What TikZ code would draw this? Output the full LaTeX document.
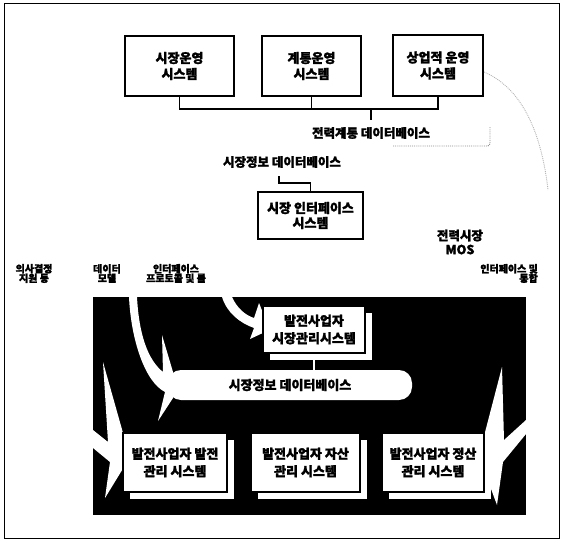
\documentclass[tikz,border=0pt]{standalone}
\usepackage{fontspec}
\newfontfamily\kr{Noto Sans CJK KR}[BoldFeatures={FakeBold=1.6}]
\usetikzlibrary{shadows}
\begin{document}
\begin{tikzpicture}[x=1pt,y=-1pt,
  tbox/.style={draw=black, line width=1.1pt, fill=white, inner sep=0pt, align=center,
    font=\kr\bfseries\fontsize{13}{16}\selectfont},
  wbox/.style={draw=black, line width=2.5pt, fill=white, inner sep=0pt, align=center,
    font=\kr\bfseries\fontsize{13}{17.5}\selectfont,
    drop shadow={shadow xshift=7pt, shadow yshift=-7pt, fill=white, opacity=1}},
  lbl/.style={inner sep=0pt, align=center, font=\kr\bfseries\fontsize{10}{9.5}\selectfont},
  dblbl/.style={inner sep=0pt, align=center, font=\kr\bfseries\fontsize{12.5}{14}\selectfont},
  conn/.style={draw=black, line width=1.1pt},
  wconn/.style={draw=white, line width=1.2pt},
  swoosh/.style={fill=white, draw=none},
  speck/.style={draw=black!45, densely dotted, line width=0.9pt}
]
\useasboundingbox (0,0) rectangle (563,541);
\draw[line width=0.9pt] (4,3) rectangle (559,538);

% upper part
\node[tbox, minimum width=109, minimum height=60] (mo) at (179.5,66) {시장운영\\시스템};
\node[tbox, minimum width=99, minimum height=60] (cm) at (311.5,66) {계통운영\\시스템};
\node[tbox, minimum width=90, minimum height=61] (co) at (438,65.5) {상업적 운영\\시스템};
\coordinate (bus) at (371,109);
\coordinate (busend) at (371,120);
\draw[conn] (mo.south) |- (bus);
\draw[conn] (cm.south) |- (bus);
\draw[conn] (co.south) |- (bus);
\draw[conn] (bus) -- (busend);
\node[dblbl] (pdb) at (371,133) {전력계통 데이터베이스};
\coordinate (brA) at (393,146);
\coordinate (brB) at (490,127);
\draw[speck] (brA) -- (488,146) -- (490,144) -- (brB);
\draw[speck, black!30] (484,72) .. controls (515,85) and (540,120) .. (548,190);

\node[dblbl] (mdb) at (282,162) {시장정보 데이터베이스};
\node[tbox, minimum width=105, minimum height=47, font=\kr\bfseries\fontsize{13}{15}\selectfont] (mis) at (310.5,215.5) {시장 인터페이스\\시스템};
\coordinate (mdbfoot) at (279,176);
\draw[conn] (mdbfoot) -- ++(0,7) -| (mis.north);

\node[dblbl] (mos) at (460,242) {전력시장\\MOS};

\node[lbl] (l1) at (34,273.5) {의사결정\\지원 등};
\node[lbl] (l2) at (107,273.5) {데이터\\모델};
\node[lbl] (l3) at (176,273.5) {인터페이스\\프로토콜 및 룰};
\node[lbl, align=right, anchor=east] (l4) at (538,273.5) {인터페이스 및\\통합};

% lower (black) part
\fill[black] (93,297) rectangle (526,515);

\fill[swoosh] (137,297) .. controls (139,335) and (148,360) .. (163,372) -- (162,335) -- (173,372)
  -- (179,385) -- (173,398) -- (158,421) -- (165,392) .. controls (145,382) and (131,340) .. (129,297) -- cycle;
\fill[swoosh] (232,297) .. controls (237,308) and (245,315) .. (254,318) -- (259,303) -- (265,318)
  -- (267,325) -- (265,332) -- (250,339) -- (254,328) .. controls (240,323) and (227,313) .. (222,297) -- cycle;
\fill[swoosh] (93,430) -- (108,442) -- (103,362) -- (125,440) -- (127,462) -- (105,498) -- (110,462) -- (93,448) -- cycle;
\fill[swoosh] (526,420) -- (504,440) -- (502,367) -- (483,440) -- (481,462) -- (497,505) -- (503,462) -- (526,434) -- cycle;

\node[wbox, minimum width=102, minimum height=47] (gm) at (314,329.5) {발전사업자\\시장관리시스템};
\node[fill=white, rounded corners=13pt, minimum width=244, minimum height=30, inner sep=0pt,
  font=\kr\bfseries\fontsize{13}{16}\selectfont] (db2) at (290,385) {시장정보 데이터베이스};
\draw[wconn] (gm.south) -- (gm.south |- db2.north);

\node[wbox, minimum width=104, minimum height=59] (b1) at (175,462.5) {발전사업자 발전\\관리 시스템};
\node[wbox, minimum width=109, minimum height=59] (b2) at (305.5,462.5) {발전사업자 자산\\관리 시스템};
\node[wbox, minimum width=102, minimum height=59] (b3) at (433,462.5) {발전사업자 정산\\관리 시스템};
\end{tikzpicture}
\end{document}
